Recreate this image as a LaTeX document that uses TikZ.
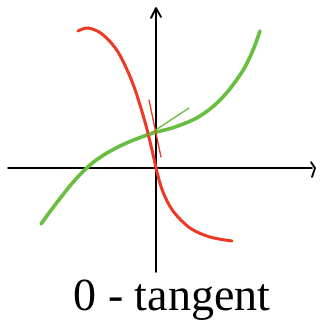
\documentclass[tikz,border=0pt]{standalone}
\usepackage{fontspec}
\setmainfont{Liberation Serif}
\definecolor{redc}{RGB}{236,58,38}
\definecolor{greenc}{RGB}{104,190,64}
\tikzset{
  axisline/.style={line width=1.8pt,black,line cap=round,line join=round},
  redcurve/.style={line width=3pt,redc,line cap=round,line join=round},
  greencurve/.style={line width=3.6pt,greenc,line cap=round,line join=round},
  tanline/.style={line width=1.3pt,line cap=round},
}
\begin{document}
\begin{tikzpicture}[x=1pt,y=-1pt]
\useasboundingbox (0,0) rectangle (322,333);
% axes
\coordinate (xl) at (8,168);
\coordinate (xr) at (312,168);
\coordinate (yb) at (156,272);
\coordinate (yt) at (156,9);
\draw[axisline] (xl) -- (xr);
\draw[axisline] (yb) -- (yt);
\draw[axisline] (311,162) -- (315,168) -- (312,177);
\draw[axisline] (151,18) -- (156,8) -- (161,17);
% green curve
\draw[greencurve] plot[smooth,tension=0.6] coordinates {(41,224) (55,205) (75,180) (95,161) (120,146) (150,134) (175,127) (200,116) (222,98) (242,72) (253,50) (260,31)};
% red curve
\draw[redcurve] plot[smooth,tension=0.55] coordinates {(78,31) (88,28) (102,34) (118,52) (133,84) (145,122) (152,150) (157,172) (163,192) (173,211) (190,228) (210,237) (232,241)};
% tangent lines
\coordinate (ga) at (148,135);
\coordinate (gb) at (189,108);
\draw[tanline,greenc] (ga) -- (gb);
\coordinate (ra) at (149,100);
\coordinate (rb) at (161,157);
\draw[tanline,redc] (ra) -- (rb);
% label
\node[anchor=center,inner sep=0pt] (lbl) at (172,300) {\fontsize{46}{50}\selectfont 0 - tangent};
\end{tikzpicture}
\end{document}
